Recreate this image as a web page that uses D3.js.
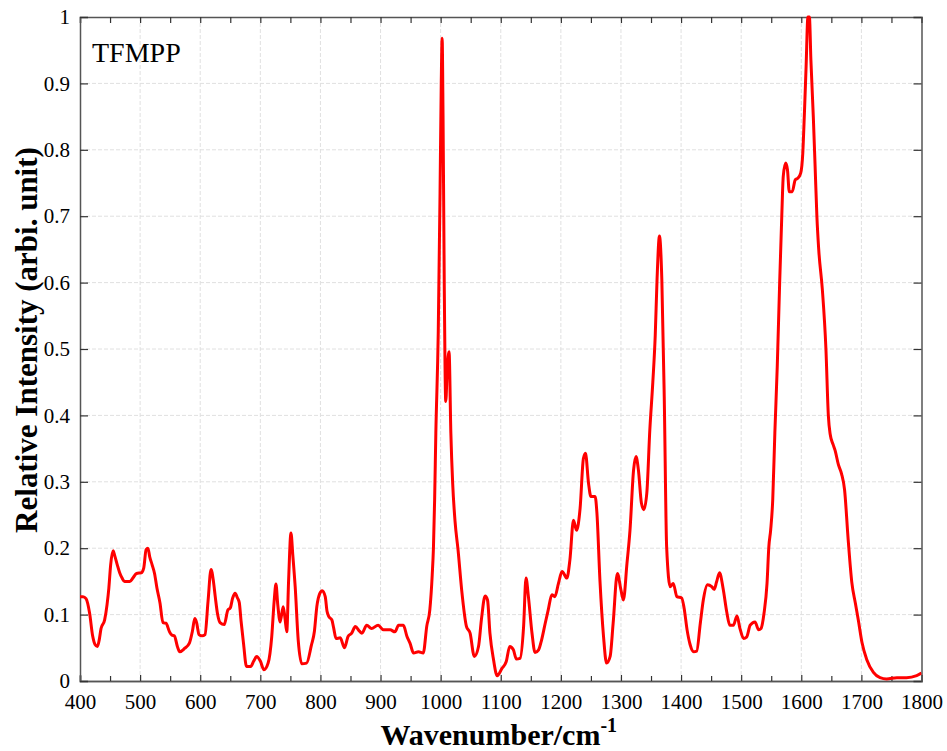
<!DOCTYPE html>
<html>
<head>
<meta charset="utf-8">
<script src="https://cdn.jsdelivr.net/npm/d3@7"></script>
<style>
  html, body { margin: 0; padding: 0; background: #fff; }
  svg { display: block; }
  svg text { font-family: 'Liberation Serif', 'Times New Roman', Times, serif; }
</style>
</head>
<body>
<script>
const sampleName = "TFMPP";
const xTitle = "Wavenumber/cm";
const xTitleSup = "-1";
const yTitle = "Relative Intensity (arbi. unit)";
const xTicks = [400, 500, 600, 700, 800, 900, 1000, 1100, 1200, 1300, 1400, 1500, 1600, 1700, 1800];
const yTicks = [0, 0.1, 0.2, 0.3, 0.4, 0.5, 0.6, 0.7, 0.8, 0.9, 1];
const yTickLabels = ["0", "0.1", "0.2", "0.3", "0.4", "0.5", "0.6", "0.7", "0.8", "0.9", "1"];

const wavenumber = [
  400, 405, 410, 416, 421, 425, 429, 432, 435, 441, 445, 448, 451, 455, 458, 462, 466, 470, 474, 483,
  488, 494, 502, 506, 510, 513, 516, 520, 524, 528, 533, 538, 543, 549, 553, 557, 562, 566, 574, 582,
  587, 591, 594, 598, 603, 608, 613, 618, 622, 625, 629, 633, 640, 646, 650, 654, 658, 662, 665, 668,
  672, 677, 684, 689, 694, 700, 706, 713, 719, 723, 726, 729, 733, 738, 741, 744, 747, 751, 754, 758,
  763, 769, 777, 785, 790, 794, 799, 803, 808, 811, 814, 819, 822, 826, 833, 840, 846, 852, 858, 865,
  869, 877, 885, 896, 905, 916, 924, 930, 938, 944, 949, 955, 963, 971, 977, 982, 986, 988, 990, 992,
  996, 999, 1001, 1002.5, 1004, 1006, 1008.5, 1011, 1014, 1017, 1020, 1024, 1029, 1035, 1043, 1049, 1056, 1063, 1068, 1074,
  1078, 1082, 1088, 1094, 1102, 1109, 1115, 1121, 1126, 1132, 1138, 1142, 1146, 1152, 1157, 1163, 1168, 1174, 1179, 1185,
  1190, 1196, 1202, 1210, 1215, 1221, 1226, 1232, 1237.5, 1241, 1246, 1250, 1257, 1260, 1265, 1271, 1276, 1282, 1287, 1294,
  1300, 1304, 1310, 1315, 1321, 1325, 1329, 1334, 1338, 1343, 1348, 1353, 1357, 1360, 1364, 1368, 1372, 1376, 1382, 1387,
  1393, 1401, 1405, 1410, 1415, 1421, 1426, 1432, 1437, 1444, 1451, 1455, 1459, 1464, 1470, 1476, 1481, 1487, 1493, 1498,
  1504, 1509, 1515, 1523, 1529, 1533, 1538, 1543, 1546, 1549, 1552.5, 1556, 1560, 1564, 1567.5, 1570, 1574, 1577, 1580, 1585,
  1590, 1594, 1599, 1602.5, 1605, 1608, 1611, 1613.5, 1616, 1620, 1623, 1626, 1629, 1635, 1641, 1645, 1648, 1653, 1656, 1662,
  1667, 1672, 1678, 1684, 1690, 1695, 1701, 1709, 1720, 1731, 1742, 1759, 1775, 1792, 1800
];
const intensity = [
  0.127, 0.127, 0.124, 0.102, 0.068, 0.055, 0.052, 0.062, 0.079, 0.092, 0.115, 0.140, 0.175, 0.196, 0.188, 0.175, 0.163, 0.155, 0.150, 0.150,
  0.155, 0.162, 0.163, 0.170, 0.198, 0.200, 0.187, 0.175, 0.162, 0.140, 0.118, 0.088, 0.087, 0.074, 0.069, 0.068, 0.052, 0.044, 0.049, 0.057,
  0.075, 0.094, 0.088, 0.070, 0.068, 0.070, 0.120, 0.168, 0.150, 0.127, 0.100, 0.088, 0.085, 0.107, 0.110, 0.125, 0.132, 0.125, 0.118, 0.090,
  0.057, 0.022, 0.022, 0.030, 0.037, 0.030, 0.017, 0.027, 0.067, 0.120, 0.146, 0.115, 0.089, 0.112, 0.095, 0.074, 0.150, 0.223, 0.190, 0.142,
  0.062, 0.026, 0.027, 0.054, 0.075, 0.112, 0.132, 0.136, 0.127, 0.105, 0.097, 0.092, 0.080, 0.064, 0.065, 0.050, 0.067, 0.072, 0.082, 0.075,
  0.072, 0.084, 0.079, 0.084, 0.077, 0.077, 0.074, 0.084, 0.084, 0.067, 0.057, 0.042, 0.044, 0.042, 0.083, 0.107, 0.160, 0.200, 0.273, 0.373,
  0.524, 0.735, 0.900, 0.968, 0.850, 0.600, 0.421, 0.470, 0.496, 0.373, 0.298, 0.240, 0.197, 0.137, 0.082, 0.072, 0.037, 0.052, 0.094, 0.128,
  0.122, 0.072, 0.032, 0.008, 0.019, 0.029, 0.052, 0.047, 0.033, 0.034, 0.082, 0.155, 0.127, 0.072, 0.043, 0.047, 0.062, 0.087, 0.107, 0.130,
  0.127, 0.147, 0.165, 0.155, 0.182, 0.242, 0.227, 0.260, 0.335, 0.343, 0.298, 0.278, 0.278, 0.253, 0.152, 0.067, 0.027, 0.037, 0.087, 0.162,
  0.137, 0.122, 0.177, 0.227, 0.318, 0.338, 0.318, 0.268, 0.258, 0.283, 0.378, 0.450, 0.520, 0.604, 0.670, 0.604, 0.428, 0.202, 0.142, 0.147,
  0.127, 0.125, 0.110, 0.077, 0.055, 0.044, 0.045, 0.087, 0.122, 0.145, 0.142, 0.138, 0.149, 0.163, 0.139, 0.104, 0.084, 0.084, 0.098, 0.079,
  0.064, 0.066, 0.084, 0.089, 0.077, 0.079, 0.102, 0.147, 0.202, 0.227, 0.273, 0.373, 0.473, 0.599, 0.699, 0.760, 0.780, 0.770, 0.737, 0.737,
  0.755, 0.757, 0.765, 0.795, 0.850, 0.925, 1.000, 1.000, 0.935, 0.850, 0.775, 0.699, 0.650, 0.590, 0.500, 0.400, 0.372, 0.356, 0.348, 0.325,
  0.312, 0.288, 0.213, 0.149, 0.117, 0.091, 0.058, 0.032, 0.013, 0.005, 0.003, 0.005, 0.005, 0.008, 0.012
];

const W = 947, H = 751;
const margin = { left: 80, right: 25.5, top: 17, bottom: 70 };
const x0 = margin.left, x1 = W - margin.right, y0 = margin.top, y1 = H - margin.bottom;

const svg = d3.select("body").append("svg").attr("width", W).attr("height", H);

const x = d3.scaleLinear().domain([400, 1800]).range([x0, x1]);
const y = d3.scaleLinear().domain([0, 1]).range([y1, y0]);

const serif = "'Liberation Serif', 'Times New Roman', Times, serif";
const frameColor = "#555";

// grid
const grid = svg.append("g");
grid.selectAll("line.gx").data(xTicks.slice(1, -1)).enter().append("line")
  .attr("x1", d => x(d)).attr("x2", d => x(d)).attr("y1", y0).attr("y2", y1)
  .attr("stroke", "#e0e0e0").attr("stroke-width", 1).attr("stroke-dasharray", "4,2");
grid.selectAll("line.gy").data(yTicks.slice(1, -1)).enter().append("line")
  .attr("y1", d => y(d)).attr("y2", d => y(d)).attr("x1", x0).attr("x2", x1)
  .attr("stroke", "#e0e0e0").attr("stroke-width", 1).attr("stroke-dasharray", "4,2");

// axes
const minorX = d3.range(400, 1801, 50);
const xAxisB = d3.axisBottom(x).tickValues(xTicks).tickSize(-6).tickPadding(13).tickFormat(d3.format("d"));
const gB = svg.append("g").attr("transform", `translate(0,${y1})`).call(xAxisB);
const xAxisT = d3.axisTop(x).tickValues(minorX).tickSize(-6).tickFormat("");
const gT = svg.append("g").attr("transform", `translate(0,${y0})`).call(xAxisT);
const xAxisBm = d3.axisBottom(x).tickValues(minorX.filter(v => v % 100 !== 0)).tickSize(-5).tickFormat("");
const gBm = svg.append("g").attr("transform", `translate(0,${y1})`).call(xAxisBm);

const yAxisL = d3.axisLeft(y).tickValues(yTicks).tickSize(-8).tickPadding(10).tickFormat((d, i) => yTickLabels[i]);
const gL = svg.append("g").attr("transform", `translate(${x0},0)`).call(yAxisL);
const yAxisR = d3.axisRight(y).tickValues(yTicks).tickSize(-8).tickFormat("");
const gR = svg.append("g").attr("transform", `translate(${x1},0)`).call(yAxisR);

[gB, gT, gBm, gL, gR].forEach(g => {
  g.attr("font-family", serif).attr("font-size", 21);
  g.select(".domain").attr("stroke", frameColor).attr("stroke-width", 1.5);
  g.selectAll(".tick line").attr("stroke", "#333").attr("stroke-width", 1.2);
  g.selectAll("text").style("font-family", serif).attr("font-size", 21).attr("fill", "#000");
});

// line
const pts = wavenumber.map((w, i) => [w, intensity[i]]);
const line = d3.line().x(d => x(d[0])).y(d => y(d[1])).curve(d3.curveMonotoneX);
svg.append("defs").append("clipPath").attr("id", "clip")
  .append("rect").attr("x", x0).attr("y", y0 - 2).attr("width", x1 - x0).attr("height", y1 - y0 + 2);
svg.append("path").datum(pts).attr("d", line)
  .attr("fill", "none").attr("stroke", "#ff0000").attr("stroke-width", 3)
  .attr("stroke-linejoin", "round").attr("clip-path", "url(#clip)");

// sample label
svg.append("text").attr("x", 92).attr("y", 62).style("font-family", serif)
  .attr("font-size", 28).attr("fill", "#000").text(sampleName);

// axis titles
const xt = svg.append("text").attr("x", (x0 + x1) / 2 - 2).attr("y", 745)
  .attr("text-anchor", "middle").style("font-family", serif).attr("font-weight", "bold")
  .attr("font-size", 30).attr("fill", "#000");
xt.append("tspan").text(xTitle);
xt.append("tspan").attr("dy", -13).attr("font-size", 20).text(xTitleSup);

svg.append("text").attr("transform", `translate(37,340) rotate(-90)`)
  .attr("text-anchor", "middle").style("font-family", serif).attr("font-weight", "bold")
  .attr("font-size", 31).attr("fill", "#000").text(yTitle);
</script>
</body>
</html>
